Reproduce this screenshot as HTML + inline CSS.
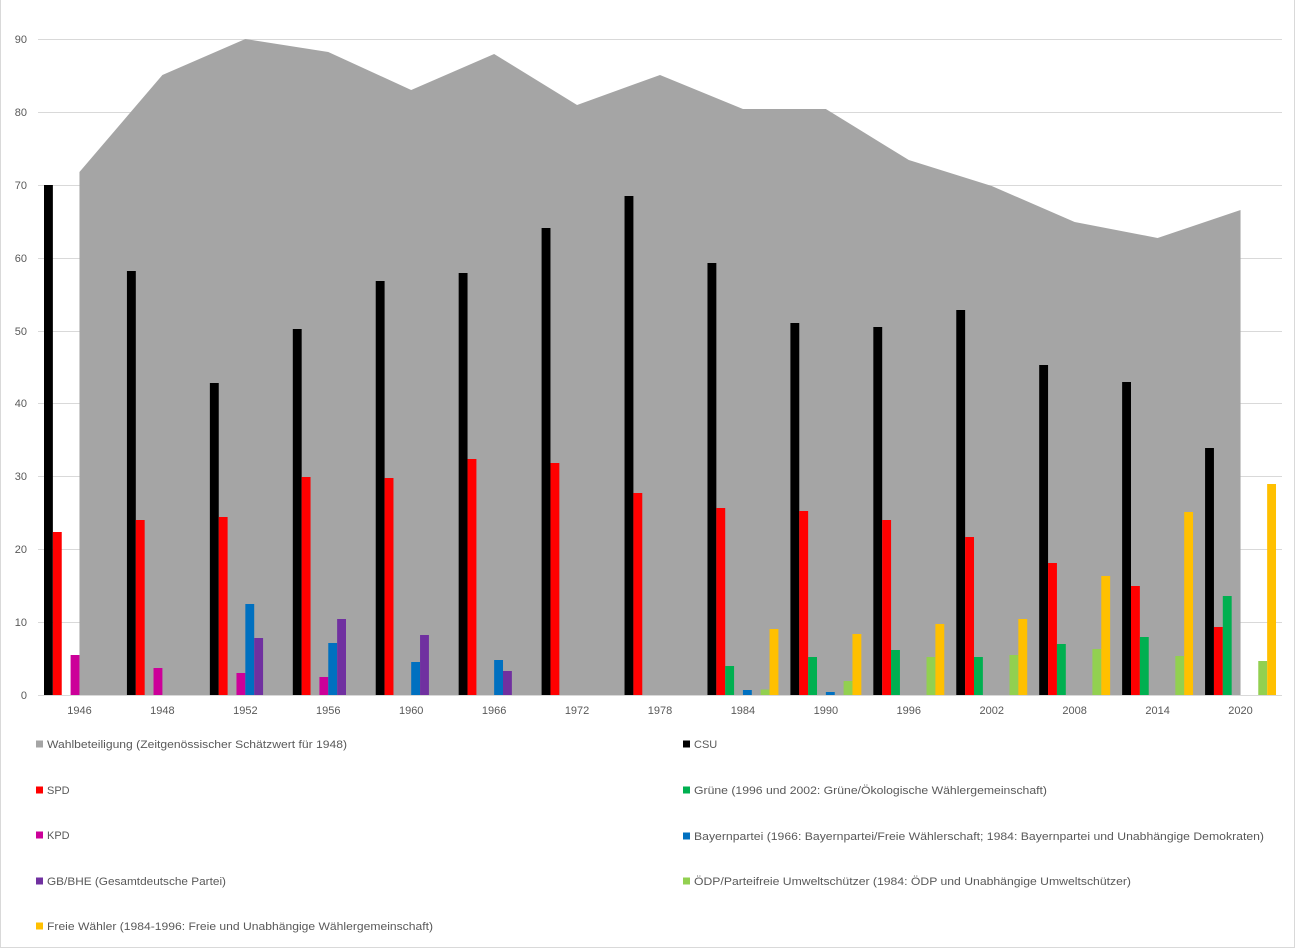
<!DOCTYPE html>
<html>
<head>
<meta charset="utf-8">
<style>
html,body{margin:0;padding:0;background:#fff;}
svg{display:block;}
text{font-family:"Liberation Sans",Arial,sans-serif;font-size:11px;fill:#595959;}
</style>
</head>
<body>
<svg width="1296" height="949" viewBox="0 0 1296 949" xmlns="http://www.w3.org/2000/svg">
<rect x="0" y="0" width="1296" height="949" fill="#fff"/>
<path d="M0.5 -1 V947.5 H1294.5 V-1" fill="none" stroke="#d9d9d9" stroke-width="1"/>
<g stroke="#d9d9d9" stroke-width="1">
<line x1="38" y1="39.5" x2="1282" y2="39.5"/>
<line x1="38" y1="112.5" x2="1282" y2="112.5"/>
<line x1="38" y1="185.5" x2="1282" y2="185.5"/>
<line x1="38" y1="258.5" x2="1282" y2="258.5"/>
<line x1="38" y1="331.5" x2="1282" y2="331.5"/>
<line x1="38" y1="403.5" x2="1282" y2="403.5"/>
<line x1="38" y1="476.5" x2="1282" y2="476.5"/>
<line x1="38" y1="549.5" x2="1282" y2="549.5"/>
<line x1="38" y1="622.5" x2="1282" y2="622.5"/>
</g>
<polygon fill="#a5a5a5" points="79.47,695 79.47,172 162.4,75 245.34,39 328.27,52 411.2,90 494.14,54 577.07,105 660,75 742.94,109 825.87,109 908.8,160 991.74,186 1074.67,222 1157.6,238 1240.54,210 1240.54,695"/>
<line x1="38" y1="695.5" x2="1282" y2="695.5" stroke="#d9d9d9" stroke-width="1"/>
<g fill="#000000">
<rect x="44" y="185" width="8.87" height="510"/>
<rect x="126.93" y="271" width="8.87" height="424"/>
<rect x="209.87" y="383" width="8.87" height="312"/>
<rect x="292.8" y="329" width="8.87" height="366"/>
<rect x="375.73" y="281" width="8.87" height="414"/>
<rect x="458.67" y="273" width="8.87" height="422"/>
<rect x="541.6" y="228" width="8.87" height="467"/>
<rect x="624.53" y="196" width="8.87" height="499"/>
<rect x="707.47" y="263" width="8.87" height="432"/>
<rect x="790.4" y="323" width="8.87" height="372"/>
<rect x="873.33" y="327" width="8.87" height="368"/>
<rect x="956.27" y="310" width="8.87" height="385"/>
<rect x="1039.2" y="365" width="8.87" height="330"/>
<rect x="1122.13" y="382" width="8.87" height="313"/>
<rect x="1205.07" y="448" width="8.87" height="247"/>
</g>
<g fill="#ff0000">
<rect x="52.87" y="532" width="8.87" height="163"/>
<rect x="135.8" y="520" width="8.87" height="175"/>
<rect x="218.74" y="517" width="8.87" height="178"/>
<rect x="301.67" y="477" width="8.87" height="218"/>
<rect x="384.6" y="478" width="8.87" height="217"/>
<rect x="467.54" y="459" width="8.87" height="236"/>
<rect x="550.47" y="463" width="8.87" height="232"/>
<rect x="633.4" y="493" width="8.87" height="202"/>
<rect x="716.34" y="508" width="8.87" height="187"/>
<rect x="799.27" y="511" width="8.87" height="184"/>
<rect x="882.2" y="520" width="8.87" height="175"/>
<rect x="965.14" y="537" width="8.87" height="158"/>
<rect x="1048.07" y="563" width="8.87" height="132"/>
<rect x="1131" y="586" width="8.87" height="109"/>
<rect x="1213.94" y="627" width="8.87" height="68"/>
</g>
<g fill="#00b050">
<rect x="725.2" y="666" width="8.87" height="29"/>
<rect x="808.13" y="657" width="8.87" height="38"/>
<rect x="891.06" y="650" width="8.87" height="45"/>
<rect x="974" y="657" width="8.87" height="38"/>
<rect x="1056.93" y="644" width="8.87" height="51"/>
<rect x="1139.86" y="637" width="8.87" height="58"/>
<rect x="1222.8" y="596" width="8.87" height="99"/>
</g>
<g fill="#cc0099">
<rect x="70.6" y="655" width="8.87" height="40"/>
<rect x="153.53" y="668" width="8.87" height="27"/>
<rect x="236.47" y="673" width="8.87" height="22"/>
<rect x="319.4" y="677" width="8.87" height="18"/>
</g>
<g fill="#0070c0">
<rect x="245.34" y="604" width="8.87" height="91"/>
<rect x="328.27" y="643" width="8.87" height="52"/>
<rect x="411.2" y="662" width="8.87" height="33"/>
<rect x="494.14" y="660" width="8.87" height="35"/>
<rect x="742.94" y="690" width="8.87" height="5"/>
<rect x="825.87" y="692" width="8.87" height="3"/>
</g>
<g fill="#7030a0">
<rect x="254.2" y="638" width="8.87" height="57"/>
<rect x="337.13" y="619" width="8.87" height="76"/>
<rect x="420.06" y="635" width="8.87" height="60"/>
<rect x="503" y="671" width="8.87" height="24"/>
</g>
<g fill="#92d050">
<rect x="760.67" y="689.5" width="8.87" height="5.5"/>
<rect x="843.6" y="681" width="8.87" height="14"/>
<rect x="926.53" y="657" width="8.87" height="38"/>
<rect x="1009.47" y="655" width="8.87" height="40"/>
<rect x="1092.4" y="649" width="8.87" height="46"/>
<rect x="1175.33" y="656" width="8.87" height="39"/>
<rect x="1258.27" y="661" width="8.87" height="34"/>
</g>
<g fill="#ffc000">
<rect x="769.54" y="629" width="8.87" height="66"/>
<rect x="852.47" y="634" width="8.87" height="61"/>
<rect x="935.4" y="624" width="8.87" height="71"/>
<rect x="1018.34" y="619" width="8.87" height="76"/>
<rect x="1101.27" y="576" width="8.87" height="119"/>
<rect x="1184.2" y="512" width="8.87" height="183"/>
<rect x="1267.14" y="484" width="8.87" height="211"/>
</g>
<g text-anchor="end">
<text x="27" y="43">90</text>
<text x="27" y="116">80</text>
<text x="27" y="189">70</text>
<text x="27" y="262">60</text>
<text x="27" y="335">50</text>
<text x="27" y="407">40</text>
<text x="27" y="480">30</text>
<text x="27" y="553">20</text>
<text x="27" y="626">10</text>
<text x="27" y="699">0</text>
</g>
<g text-anchor="middle">
<text x="79.47" y="714">1946</text>
<text x="162.4" y="714">1948</text>
<text x="245.34" y="714">1952</text>
<text x="328.27" y="714">1956</text>
<text x="411.2" y="714">1960</text>
<text x="494.14" y="714">1966</text>
<text x="577.07" y="714">1972</text>
<text x="660" y="714">1978</text>
<text x="742.94" y="714">1984</text>
<text x="825.87" y="714">1990</text>
<text x="908.8" y="714">1996</text>
<text x="991.74" y="714">2002</text>
<text x="1074.67" y="714">2008</text>
<text x="1157.6" y="714">2014</text>
<text x="1240.54" y="714">2020</text>
</g>
<rect x="36" y="740.5" width="7" height="7" fill="#a5a5a5"/>
<text x="47" y="748" textLength="300" lengthAdjust="spacingAndGlyphs">Wahlbeteiligung (Zeitgenössischer Schätzwert für 1948)</text>
<rect x="683" y="740.5" width="7" height="7" fill="#000000"/>
<text x="694" y="748">CSU</text>

<rect x="36" y="786.5" width="7" height="7" fill="#ff0000"/>
<text x="47" y="794">SPD</text>
<rect x="683" y="786.5" width="7" height="7" fill="#00b050"/>
<text x="694" y="794" textLength="353" lengthAdjust="spacingAndGlyphs">Grüne (1996 und 2002: Grüne/Ökologische Wählergemeinschaft)</text>

<rect x="36" y="831.5" width="7" height="7" fill="#cc0099"/>
<text x="47" y="839">KPD</text>
<rect x="683" y="832.5" width="7" height="7" fill="#0070c0"/>
<text x="694" y="840" textLength="570" lengthAdjust="spacingAndGlyphs">Bayernpartei (1966: Bayernpartei/Freie Wählerschaft; 1984: Bayernpartei und Unabhängige Demokraten)</text>

<rect x="36" y="877.5" width="7" height="7" fill="#7030a0"/>
<text x="47" y="885" textLength="179" lengthAdjust="spacingAndGlyphs">GB/BHE (Gesamtdeutsche Partei)</text>
<rect x="683" y="877.5" width="7" height="7" fill="#92d050"/>
<text x="694" y="885" textLength="437" lengthAdjust="spacingAndGlyphs">ÖDP/Parteifreie Umweltschützer (1984: ÖDP und Unabhängige Umweltschützer)</text>

<rect x="36" y="922.5" width="7" height="7" fill="#ffc000"/>
<text x="47" y="930" textLength="386" lengthAdjust="spacingAndGlyphs">Freie Wähler (1984-1996: Freie und Unabhängige Wählergemeinschaft)</text>
</svg>
</body>
</html>
